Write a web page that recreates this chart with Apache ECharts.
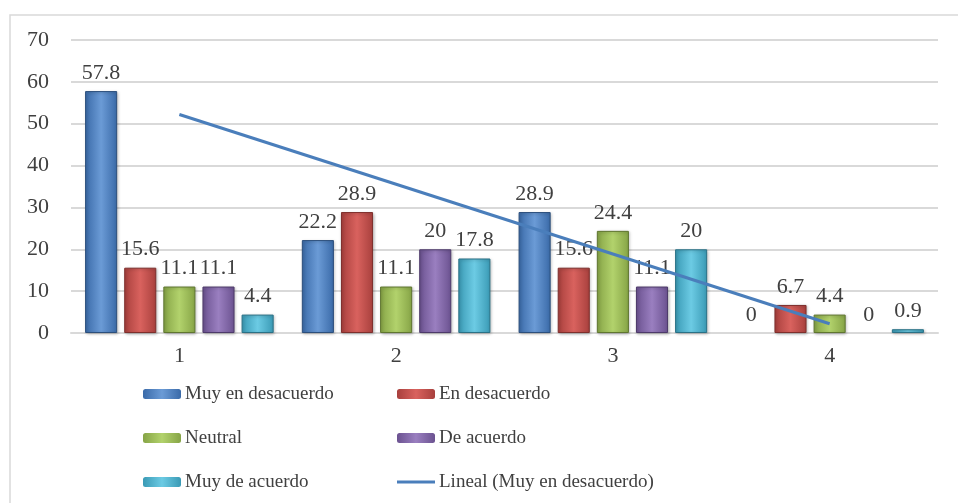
<!DOCTYPE html>
<html lang="es">
  <head>
    <meta charset="UTF-8">
    <title>Chart</title>
    <script src="https://cdn.jsdelivr.net/npm/echarts@6/dist/echarts.min.js"></script>
    <style>
      html, body { margin: 0; padding: 0; background: #fff; }
    </style>
  </head>
  <body>
    <div id="main" style="width: 958px;height:503px;"></div>
    <script type="text/javascript">
      // data
      const categories = ['1', '2', '3', '4'];
      const muyDesacuerdo = [57.8, 22.2, 28.9, 0];
      const enDesacuerdo = [15.6, 28.9, 15.6, 6.7];
      const neutral = [11.1, 11.1, 24.4, 4.4];
      const deAcuerdo = [11.1, 20, 11.1, 0];
      const muyDeAcuerdo = [4.4, 17.8, 20, 0.9];
      // linear trend of "Muy en desacuerdo", end points only
      const trend = [52.2, null, null, 2.2];
      const yTicks = [0, 10, 20, 30, 40, 50, 60, 70];

      const font = 'Liberation Serif';
      let myChart = echarts.init(document.getElementById('main'));

      function bevel(edge, mid) {
        return new echarts.graphic.LinearGradient(0, 0, 1, 0, [
          { offset: 0, color: edge },
          { offset: 0.5, color: mid },
          { offset: 1, color: edge }
        ]);
      }

      function barSeries(name, data, edge, mid, border) {
        return {
          name: name,
          type: 'bar',
          // zero bars draw no outline, only their label
          data: data.map(v => ({ value: v, itemStyle: { borderWidth: v === 0 ? 0 : 1 } })),
          barGap: '22%',
          barCategoryGap: '13%',
          itemStyle: {
            color: bevel(edge, mid),
            borderColor: border,
            shadowColor: 'rgba(0,0,0,0.25)',
            shadowBlur: 3,
            shadowOffsetX: 1,
            shadowOffsetY: 1
          },
          label: {
            show: true,
            position: 'top',
            distance: 7,
            fontFamily: font,
            fontSize: 22,
            color: '#404040'
          }
        };
      }

      const legendText = { fontFamily: font, fontSize: 19, color: '#404040', lineHeight: 20, padding: [0, 0, 0, -1] };

      let options = {
        animation: false,
        graphic: [{
          type: 'rect',
          shape: { x: 10, y: 15, width: 980, height: 520 },
          style: { fill: 'none', stroke: '#d9d9d9', lineWidth: 1.5 },
          silent: true
        }],
        grid: { left: 71, right: 20, top: 40, bottom: 170 },
        legend: [{
          left: 138,
          top: 379,
          orient: 'vertical',
          itemWidth: 38,
          itemHeight: 10,
          itemGap: 24,
          textStyle: legendText,
          data: ['Muy en desacuerdo', 'Neutral', 'Muy de acuerdo']
        }, {
          left: 392,
          top: 379,
          orient: 'vertical',
          itemWidth: 38,
          itemHeight: 10,
          itemGap: 24,
          textStyle: legendText,
          data: ['En desacuerdo', 'De acuerdo',
            { name: 'Lineal (Muy en desacuerdo)', icon: 'path://M0,0H38V3H0Z' }]
        }],
        xAxis: {
          type: 'category',
          data: categories,
          axisTick: { show: false },
          axisLine: { lineStyle: { color: '#d9d9d9', width: 2 } },
          axisLabel: { fontFamily: font, fontSize: 22, color: '#404040', margin: 12 }
        },
        yAxis: {
          type: 'value',
          min: 0,
          max: 70,
          interval: 10,
          axisLine: { show: false },
          axisTick: { show: false },
          splitLine: { lineStyle: { color: '#d9d9d9', width: 2 } },
          axisLabel: {
            fontFamily: font, fontSize: 22, color: '#404040', margin: 22,
            formatter: v => yTicks.includes(v) ? String(v) : ''
          }
        },
        series: [
          barSeries('Muy en desacuerdo', muyDesacuerdo, '#3a6aa8', '#6b9bd6', '#2c4f7c'),
          barSeries('En desacuerdo', enDesacuerdo, '#a8403d', '#d9625e', '#7e2f2c'),
          barSeries('Neutral', neutral, '#86a446', '#b2d26c', '#5f7630'),
          barSeries('De acuerdo', deAcuerdo, '#6b5290', '#9a7fc0', '#4d3a6a'),
          barSeries('Muy de acuerdo', muyDeAcuerdo, '#3a9ab5', '#6ccbe4', '#2a7186'),
          {
            name: 'Lineal (Muy en desacuerdo)',
            type: 'line',
            data: trend,
            connectNulls: true,
            symbol: 'none',
            lineStyle: { color: '#4a7ebb', width: 3 },
            itemStyle: { color: '#4a7ebb' },
            z: 5
          }
        ]
      };

      myChart.setOption(options);
    </script>
  </body>
</html>
